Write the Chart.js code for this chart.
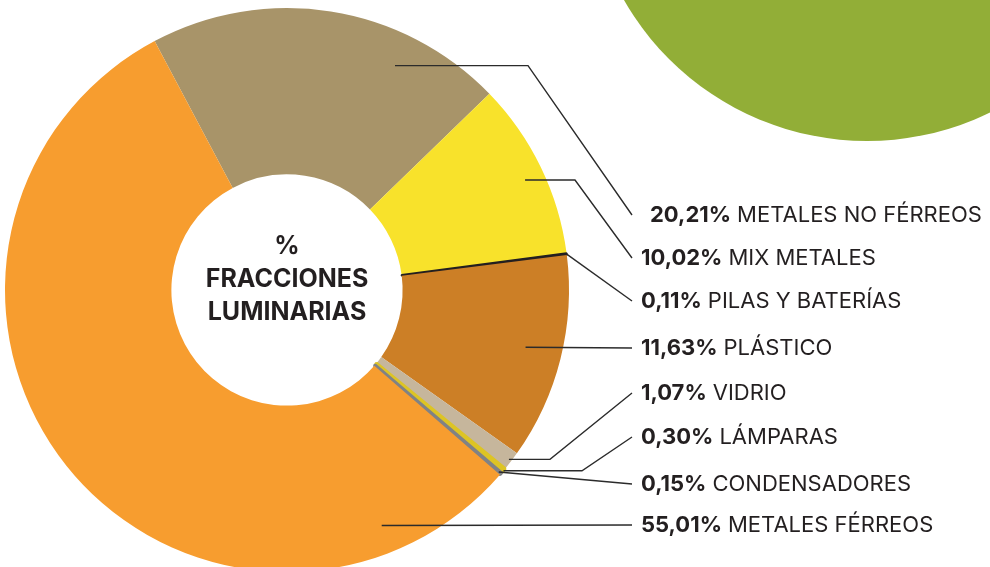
<!DOCTYPE html>
<html>
<head>
<meta charset="utf-8">
<script src="https://cdn.jsdelivr.net/npm/chart.js@4.4.1/dist/chart.umd.min.js"></script>
<style>
html, body { margin: 0; padding: 0; background: #fff; overflow: hidden; }
#wrap { position: relative; width: 990px; height: 567px; overflow: hidden; }
#blob { position: absolute; left: 587px; top: -419px; width: 560px; height: 560px; border-radius: 50%; background: #92AE37; }
#myChart { position: absolute; left: 0; top: 0; }
</style>
</head>
<body>
<div id="wrap">
  <div id="blob"></div>
  <canvas id="myChart" width="990" height="580"></canvas>
</div>
<script>
var ctx = document.querySelector('#myChart');

// data
var fractionLabels = ['METALES NO FÉRREOS', 'MIX METALES', 'PILAS Y BATERÍAS', 'PLÁSTICO',
                      'VIDRIO', 'LÁMPARAS', 'CONDENSADORES', 'METALES FÉRREOS'];
var fractionValues = [20.21, 10.02, 0.11, 11.63, 1.07, 0.30, 0.15, 55.01];
var centerLines = ['%', 'FRACCIONES', 'LUMINARIAS'];

var sliceColors = ['#A89469', '#F8E22B', '#231F20', '#CC7F26',
                   '#C6B69C', '#DDC424', '#808285', '#F79D2F'];
// tiny slices get a same-colour outline so they stay visible like in the print
var sliceBorders = [0, 0, 2, 0, 0, 3, 3, 0];

// leader layout: where the line leaves the slice (fraction of slice angle, fraction of radius),
// where it bends, and which row the label sits on
var anchorT = [0.727, 0.528, 0.5, 0.485, 0.5, 0.5, 0.5, 0.135];
var anchorR = [0.883, 0.93, 1.0, 0.87, 0.99, 1.0, 0.99, 0.9];
var elbowX = [528, 575, null, null, 550, 582, null, null];
var labelY = [215, 258, 301, 348, 393, 437, 484, 525];
var labelX = [650, 641, 641, 641, 641, 641, 641, 641];
const LINE_END_X = 632;

function percentText(v){
  return v.toFixed(2).replace('.', ',') + '%';
}

const leaderPlugin = {
  id: 'leaders',
  afterDraw(chart){
    const c = chart.ctx;
    const arcs = chart.getDatasetMeta(0).data;
    c.save();

    // leader lines
    c.strokeStyle = '#2b2b2b';
    c.lineWidth = 1.4;
    arcs.forEach((arc, i) => {
      const p = arc.getProps(['x', 'y', 'startAngle', 'endAngle', 'outerRadius'], true);
      const a = p.startAngle + anchorT[i] * (p.endAngle - p.startAngle);
      const r = p.outerRadius * anchorR[i];
      const ax = p.x + r * Math.cos(a);
      const ay = p.y + r * Math.sin(a);
      c.beginPath();
      c.moveTo(ax, ay);
      if(elbowX[i] !== null) c.lineTo(elbowX[i], ay);
      c.lineTo(LINE_END_X, labelY[i]);
      c.stroke();
    });

    // labels
    c.textBaseline = 'middle';
    c.textAlign = 'left';
    c.fillStyle = '#231F20';
    fractionLabels.forEach((name, i) => {
      const pct = percentText(fractionValues[i]);
      c.font = '700 22px Inter';
      c.fillText(pct, labelX[i], labelY[i]);
      const w = c.measureText(pct).width;
      c.font = '400 22px Inter';
      c.fillText(name, labelX[i] + w + 6, labelY[i]);
    });

    // centre text
    const cx = arcs[0].x, cy = arcs[0].y;
    c.textAlign = 'center';
    c.font = '700 25px Inter';
    c.fillText(centerLines[0], cx, cy - 44);
    c.fillText(centerLines[1], cx, cy - 11);
    c.fillText(centerLines[2], cx, cy + 22);
    c.restore();
  }
};

var fractionsChart = new Chart(ctx, {
  type: 'doughnut',
  data: {
    labels: fractionLabels,
    datasets: [{
      data: fractionValues,
      backgroundColor: sliceColors,
      borderColor: sliceColors,
      borderWidth: sliceBorders,
      hoverOffset: 0
    }]
  },
  options: {
    responsive: false,
    devicePixelRatio: 1,
    animation: false,
    rotation: -28,
    cutout: '41%',
    layout: { padding: { left: 3.5, right: 419.5, top: 6.5, bottom: 6.5 } },
    plugins: {
      legend: { display: false },
      tooltip: { enabled: false }
    }
  },
  plugins: [leaderPlugin]
});
</script>
</body>
</html>
